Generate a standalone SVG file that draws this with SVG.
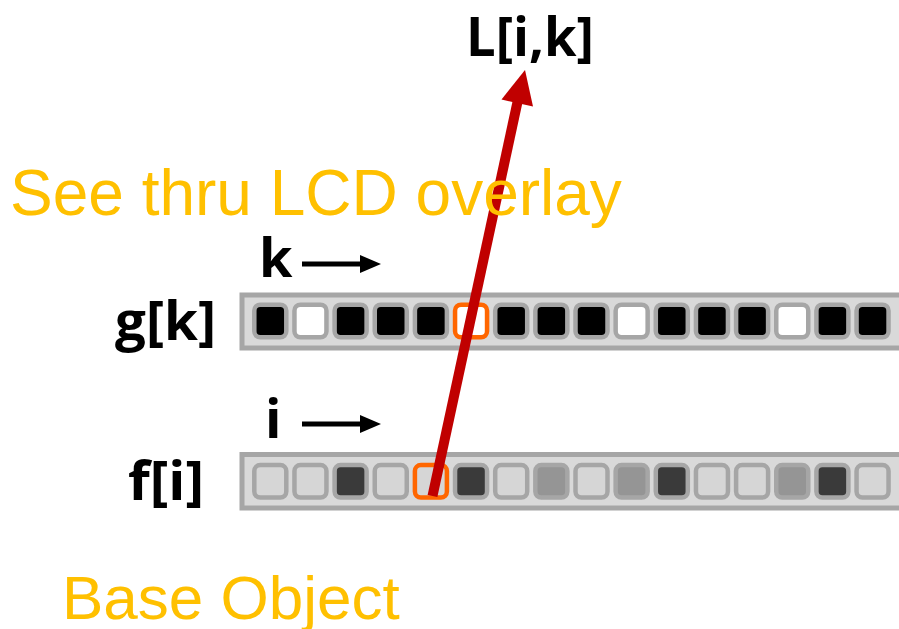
<svg xmlns="http://www.w3.org/2000/svg" width="899" height="629" viewBox="0 0 899 629">
<defs>
<style>
.bar{fill:#d9d9d9;stroke:#a6a6a6;stroke-width:5}
.cell{stroke:#a6a6a6;stroke-width:4.5}
.sel{stroke:#ff6600}
.k{fill:#000}
.w{fill:#fff}
.l{fill:#d6d6d6}
.d{fill:#3a3a3a}
.m{fill:#959595}
.lbl{font-family:"Open Sans","DejaVu Sans",sans-serif;font-weight:bold;fill:#000}
.org{font-family:"Liberation Sans",Arial,sans-serif;fill:#ffc000}
.idx{stroke:#000;stroke-width:5;fill:none}
</style>
<marker id="ah" markerUnits="userSpaceOnUse" markerWidth="22" markerHeight="20" refX="0" refY="9" orient="auto" viewBox="0 0 22 18">
<path d="M0,0 L21,9 L0,18 Z" fill="#000"/>
</marker>
</defs>
<rect width="899" height="629" fill="#fff"/>

<g id="g-array">
<rect class="bar" x="242" y="295" width="700" height="53"/>
<rect class="cell k" x="254.3" y="304.7" width="32" height="32.6" rx="6"/>
<rect class="cell w" x="294.45" y="304.7" width="32" height="32.6" rx="6"/>
<rect class="cell k" x="334.6" y="304.7" width="32" height="32.6" rx="6"/>
<rect class="cell k" x="374.75" y="304.7" width="32" height="32.6" rx="6"/>
<rect class="cell k" x="414.9" y="304.7" width="32" height="32.6" rx="6"/>
<rect class="cell w sel" x="455.05" y="304.7" width="32" height="32.6" rx="6"/>
<rect class="cell k" x="495.2" y="304.7" width="32" height="32.6" rx="6"/>
<rect class="cell k" x="535.35" y="304.7" width="32" height="32.6" rx="6"/>
<rect class="cell k" x="575.5" y="304.7" width="32" height="32.6" rx="6"/>
<rect class="cell w" x="615.65" y="304.7" width="32" height="32.6" rx="6"/>
<rect class="cell k" x="655.8" y="304.7" width="32" height="32.6" rx="6"/>
<rect class="cell k" x="695.95" y="304.7" width="32" height="32.6" rx="6"/>
<rect class="cell k" x="736.1" y="304.7" width="32" height="32.6" rx="6"/>
<rect class="cell w" x="776.25" y="304.7" width="32" height="32.6" rx="6"/>
<rect class="cell k" x="816.4" y="304.7" width="32" height="32.6" rx="6"/>
<rect class="cell k" x="856.55" y="304.7" width="32" height="32.6" rx="6"/>
<text class="lbl" x="115" y="340" font-size="54" textLength="101" lengthAdjust="spacingAndGlyphs">g[k]</text>
</g>

<g id="f-array">
<rect class="bar" x="242" y="454.5" width="700" height="53.5"/>
<rect class="cell l" x="254.3" y="465" width="32" height="32.6" rx="6"/>
<rect class="cell l" x="294.45" y="465" width="32" height="32.6" rx="6"/>
<rect class="cell d" x="334.6" y="465" width="32" height="32.6" rx="6"/>
<rect class="cell l" x="374.75" y="465" width="32" height="32.6" rx="6"/>
<rect class="cell l sel" x="414.9" y="465" width="32" height="32.6" rx="6"/>
<rect class="cell d" x="455.05" y="465" width="32" height="32.6" rx="6"/>
<rect class="cell l" x="495.2" y="465" width="32" height="32.6" rx="6"/>
<rect class="cell m" x="535.35" y="465" width="32" height="32.6" rx="6"/>
<rect class="cell l" x="575.5" y="465" width="32" height="32.6" rx="6"/>
<rect class="cell m" x="615.65" y="465" width="32" height="32.6" rx="6"/>
<rect class="cell d" x="655.8" y="465" width="32" height="32.6" rx="6"/>
<rect class="cell l" x="695.95" y="465" width="32" height="32.6" rx="6"/>
<rect class="cell l" x="736.1" y="465" width="32" height="32.6" rx="6"/>
<rect class="cell m" x="776.25" y="465" width="32" height="32.6" rx="6"/>
<rect class="cell d" x="816.4" y="465" width="32" height="32.6" rx="6"/>
<rect class="cell l" x="856.55" y="465" width="32" height="32.6" rx="6"/>
<text class="lbl" x="128" y="500" font-size="54" textLength="76" lengthAdjust="spacingAndGlyphs">f[i]</text>
</g>

<g id="k-index">
<text class="lbl" x="259" y="277" font-size="54">k</text>
<line class="idx" x1="302" y1="264" x2="360" y2="264" marker-end="url(#ah)"/>
</g>

<g id="i-index">
<text class="lbl" x="265" y="438" font-size="54">i</text>
<line class="idx" x1="302" y1="424" x2="360" y2="424" marker-end="url(#ah)"/>
</g>

<g id="connectors">
<line x1="432.5" y1="496" x2="517.5" y2="102" stroke="#c00000" stroke-width="10"/>
<polygon points="525,70 501.5,99.5 533,106.5" fill="#c00000"/>
</g>

<g id="L-output">
<text class="lbl" x="466" y="56" font-size="54" textLength="128" lengthAdjust="spacingAndGlyphs">L[i,k]</text>
</g>

<g id="overlay-label">
<text class="org" x="10" y="215" font-size="64">See thru LCD overlay</text>
</g>

<g id="base-label">
<text class="org" x="62" y="619" font-size="62">Base Object</text>
</g>
</svg>
